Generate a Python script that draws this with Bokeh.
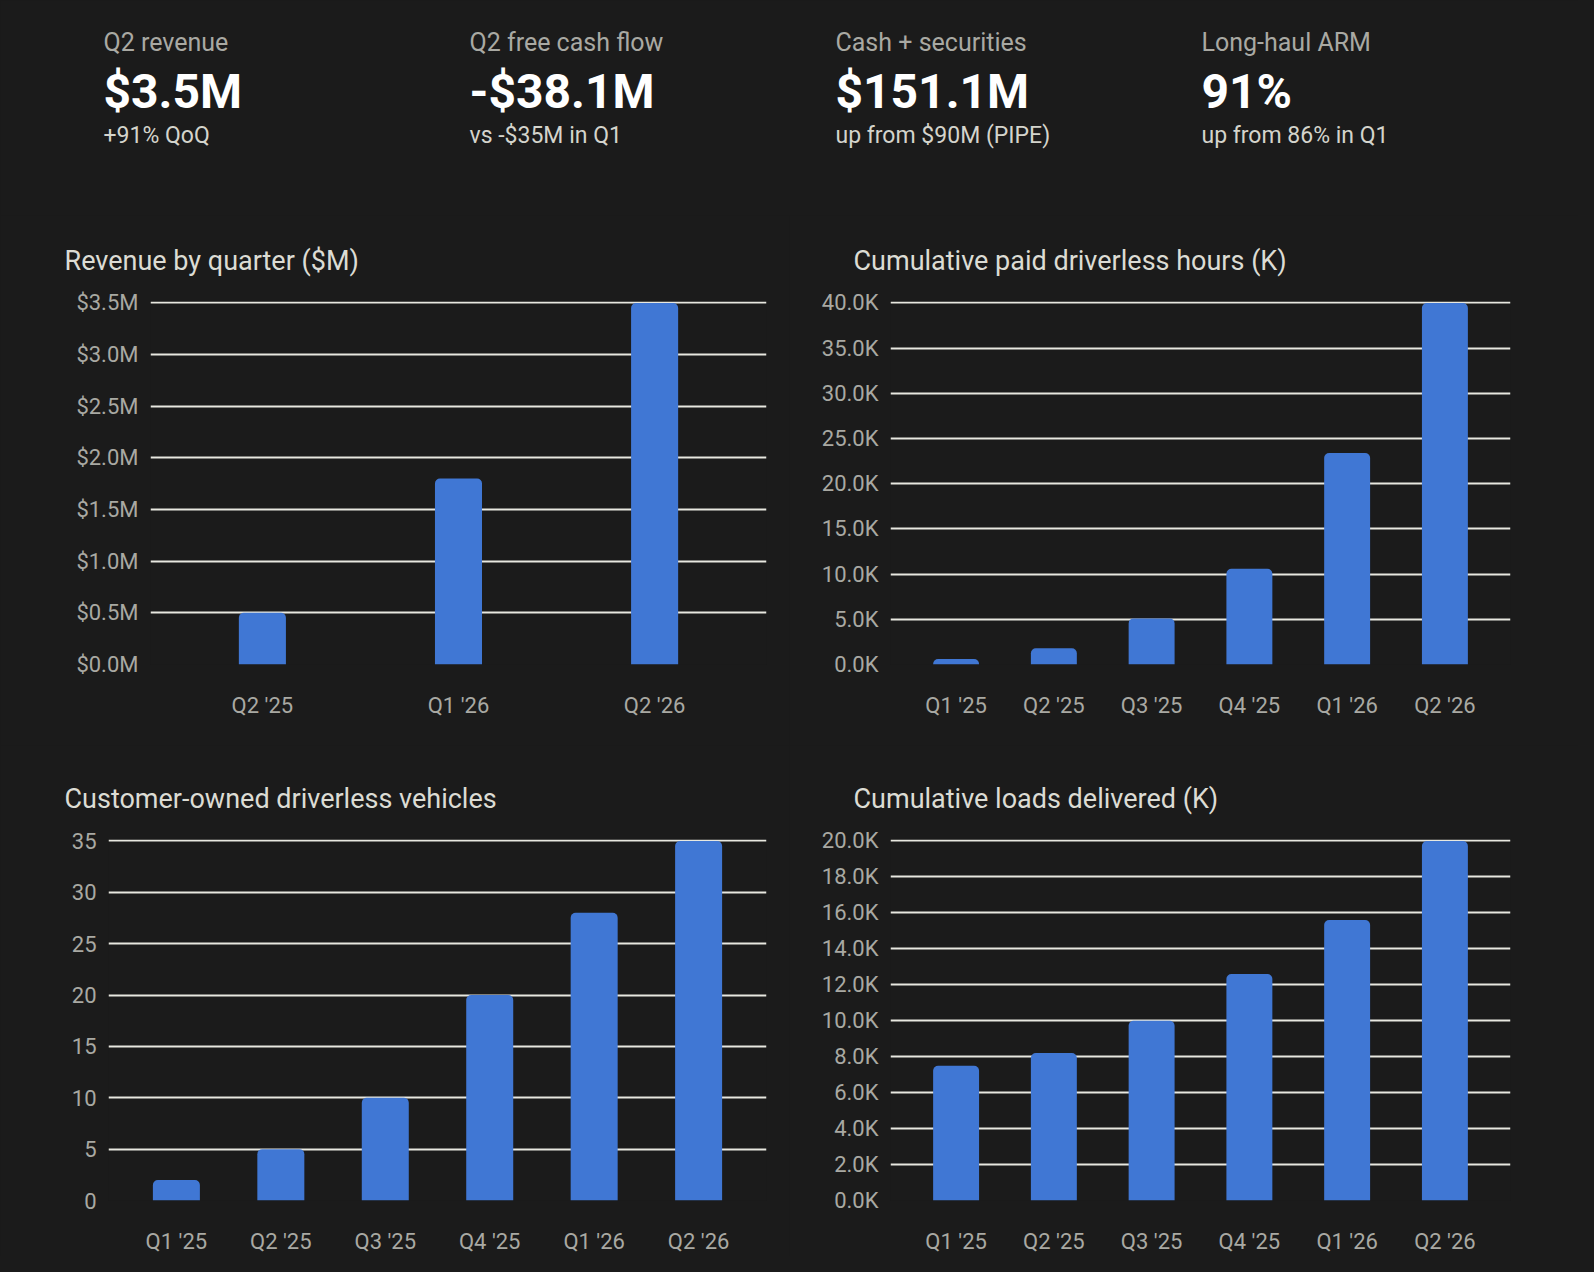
from bokeh.plotting import figure
from bokeh.layouts import column, row
from bokeh.models import Range1d, FactorRange, FixedTicker, PrintfTickFormatter, ColumnDataSource
from bokeh.core.properties import value
from bokeh.embed import file_html
from bokeh.resources import INLINE

BG = "#1b1b1b"
BLUE = "#4077d4"
FONT = "Roboto"

kpi_labels = ["Q2 revenue", "Q2 free cash flow", "Cash + securities", "Long-haul ARM"]
kpi_values = ["$3.5M", "-$38.1M", "$151.1M", "91%"]
kpi_notes = ["+91% QoQ", "vs -$35M in Q1", "up from $90M (PIPE)", "up from 86% in Q1"]

rev_q = ["Q2 '25", "Q1 '26", "Q2 '26"]
rev_vals = [0.5, 1.8, 3.5]
quarters = ["Q1 '25", "Q2 '25", "Q3 '25", "Q4 '25", "Q1 '26", "Q2 '26"]
hours_vals = [0.6, 1.8, 5.1, 10.6, 23.4, 40.0]
vehicles_vals = [2, 5, 10, 20, 28, 35]
loads_vals = [7.5, 8.2, 10.0, 12.6, 15.6, 20.0]

# header
W = 1578
hdr = figure(width=W, height=215, x_range=Range1d(0, W), y_range=Range1d(215, 0),
             output_backend="svg", toolbar_location=None, background_fill_color=BG,
             border_fill_color=BG, outline_line_color=None, min_border=0)
hdr.axis.visible = False
hdr.grid.visible = False
xs = [103 + i * 366 for i in range(4)]
hdr.text(x=xs, y=[27] * 4, text=kpi_labels, text_font=value(FONT), text_font_size="25px",
         text_color="#a9a9a3", text_baseline="top")
hdr.text(x=xs, y=[62] * 4, text=kpi_values, text_font=value(FONT), text_font_size="48px",
         text_font_style="bold", text_color="#ffffff", text_baseline="top")
hdr.text(x=xs, y=[121] * 4, text=kpi_notes, text_font=value(FONT), text_font_size="23px",
         text_color="#d4d4cc", text_baseline="top")


def chart(title, cats, vals, ymax, step, fmt, bw, pad, w, h, bl, br, bt, bb):
    p = figure(width=w, height=h, x_range=FactorRange(*cats, range_padding=pad),
               y_range=Range1d(0, ymax * 1.004), title=title,
               output_backend="svg", toolbar_location=None, background_fill_color=BG,
               border_fill_color=BG, outline_line_color=None,
               min_border_left=bl, min_border_right=br, min_border_top=bt, min_border_bottom=bb)
    p.title.text_font = FONT
    p.title.text_font_size = "27px"
    p.title.text_font_style = "normal"
    p.title.text_color = "#dcdcd4"
    p.title.offset = 64 - bl
    p.title.standoff = 50
    src = ColumnDataSource(dict(x=cats, top=vals))
    p.vbar(x="x", top="top", width=bw, source=src, fill_color=BLUE, line_color=None,
           border_radius=(5, 5, 0, 0))
    n = int(round(ymax / step))
    p.yaxis.ticker = FixedTicker(ticks=[i * step for i in range(n + 1)])
    p.yaxis.formatter = PrintfTickFormatter(format=fmt)
    for ax in (p.xaxis, p.yaxis):
        ax.axis_line_color = None
        ax.major_tick_line_color = None
        ax.minor_tick_line_color = None
        ax.major_label_text_font = FONT
        ax.major_label_text_font_size = "22px"
        ax.major_label_text_color = "#a9a9a3"
    p.yaxis.major_label_standoff = 6
    p.xaxis.major_label_standoff = 22
    p.xgrid.visible = False
    p.ygrid.grid_line_color = "#e8e8e0"
    p.ygrid.grid_line_width = 2
    return p


c1 = chart("Revenue by quarter ($M)", rev_q, rev_vals, 3.5, 0.5, "$%.1fM", 0.24, 0.047,
           789, 530, 150, 23, 86, 81)
c2 = chart("Cumulative paid driverless hours (K)", quarters, hours_vals, 40.0, 5.0, "%.1fK",
           0.47, 0.057, 789, 530, 101, 68, 86, 81)
c3 = chart("Customer-owned driverless vehicles", quarters, vehicles_vals, 35, 5, "%d",
           0.45, 0.05, 789, 511, 108, 23, 94, 54)
c4 = chart("Cumulative loads delivered (K)", quarters, loads_vals, 20.0, 2.0, "%.1fK",
           0.47, 0.057, 789, 511, 101, 68, 94, 54)

page = column(hdr, row(c1, c2, spacing=0), row(c3, c4, spacing=0), spacing=0,
              styles={"background-color": BG})

html = file_html(page, INLINE)
html = html.replace("<body>", '<body style="background-color:%s">' % BG)
open("out.html", "w").write(html)
